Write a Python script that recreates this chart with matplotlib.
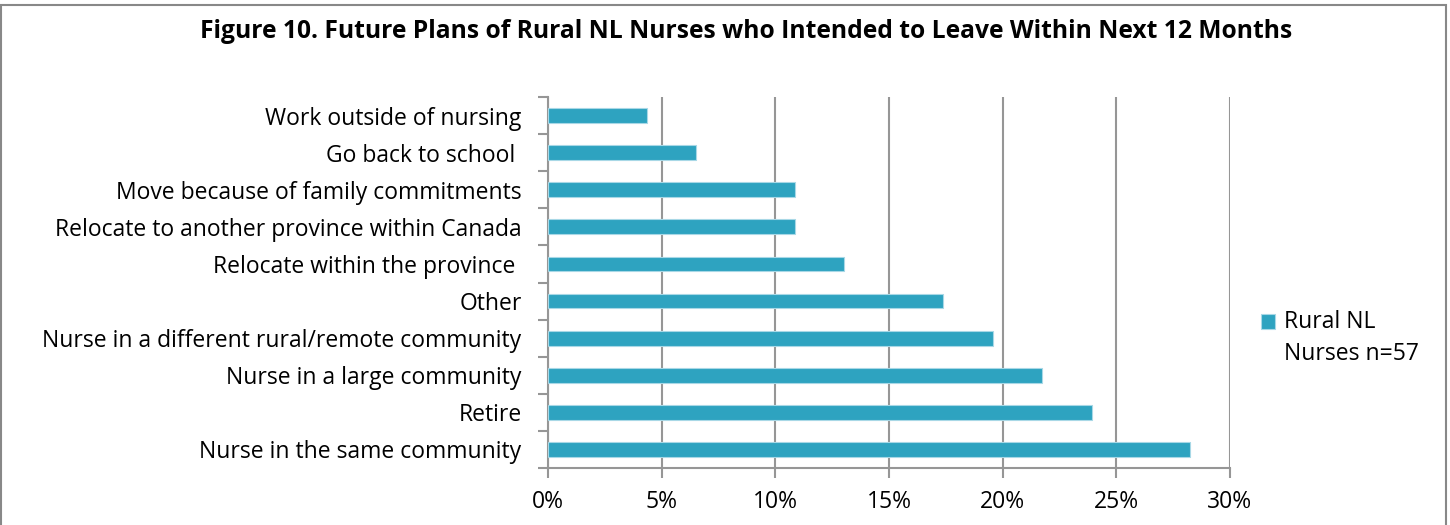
import numpy as np
import matplotlib.pyplot as plt
from matplotlib.patches import Rectangle
from matplotlib.legend_handler import HandlerPatch

plt.rcParams['font.family'] = ['Open Sans', 'DejaVu Sans']

categories = [
    'Nurse in the same community',
    'Retire',
    'Nurse in a large community',
    'Nurse in a different rural/remote community',
    'Other',
    'Relocate within the province ',
    'Relocate to another province within Canada',
    'Move because of family commitments',
    'Go back to school ',
    'Work outside of nursing',
]
values = [28.26, 23.91, 21.74, 19.57, 17.39, 13.04, 10.87, 10.87, 6.52, 4.35]
xticks = [0, 5, 10, 15, 20, 25, 30]
series_name = 'Rural NL\nNurses n=57'
title = 'Figure 10. Future Plans of Rural NL Nurses who Intended to Leave Within Next 12 Months'

bar_color = '#2EA3C0'
grid_color = '#969696'
fs = 16.5


def top_square(legend, orig_handle, xdescent, ydescent, width, height, fontsize):
    # put the legend square next to the first line of the label
    return Rectangle((-xdescent, -ydescent + 12.5), width, height)


fig = plt.figure(figsize=(14.5, 5.25), dpi=100)
ax = fig.add_axes([548/1450, 57/525, 682/1450, 371/525])

y = np.arange(len(categories))
bars = ax.barh(y, values, height=0.4, color=bar_color, edgecolor='#a8d8e6',
               linewidth=0.8, zorder=3)

ax.set_xlim(0, 30)
ax.set_ylim(-0.5, len(categories) - 0.5)
ax.set_xticks(xticks)
ax.set_xticklabels([f'{t}%' for t in xticks], fontsize=fs)
ax.set_yticks(y)
ax.set_yticklabels(categories, fontsize=fs)
ax.tick_params(axis='y', length=0, pad=19)
ax.set_yticks(np.arange(-0.5, len(categories)), minor=True)
ax.tick_params(axis='y', which='minor', length=7, color=grid_color, width=1.5)
ax.tick_params(axis='x', length=7, color=grid_color, width=1.5, pad=9)
ax.grid(axis='x', color=grid_color, linewidth=1.5, zorder=0)

for side in ['top', 'right']:
    ax.spines[side].set_visible(False)
for side in ['left', 'bottom']:
    ax.spines[side].set_color(grid_color)
    ax.spines[side].set_linewidth(1.5)

handle = bars.patches[0]
leg = ax.legend([handle], [series_name], loc='center left',
                bbox_to_anchor=(1.015, 0.35), frameon=False,
                fontsize=fs, handlelength=0.6, handleheight=0.6,
                handletextpad=0.4,
                handler_map={handle: HandlerPatch(patch_func=top_square)})
for t in leg.get_texts():
    t.set_linespacing(1.45)

fig.text(746/1450, 1 - 31/525, title, ha='center', va='center',
         fontsize=17.7, fontweight='bold')

fig.patches.append(Rectangle((0.001, -0.01), 0.996, 1.0, transform=fig.transFigure,
                             fill=False, edgecolor='#888888', linewidth=1.5))

fig.savefig('out.png', dpi=100)
